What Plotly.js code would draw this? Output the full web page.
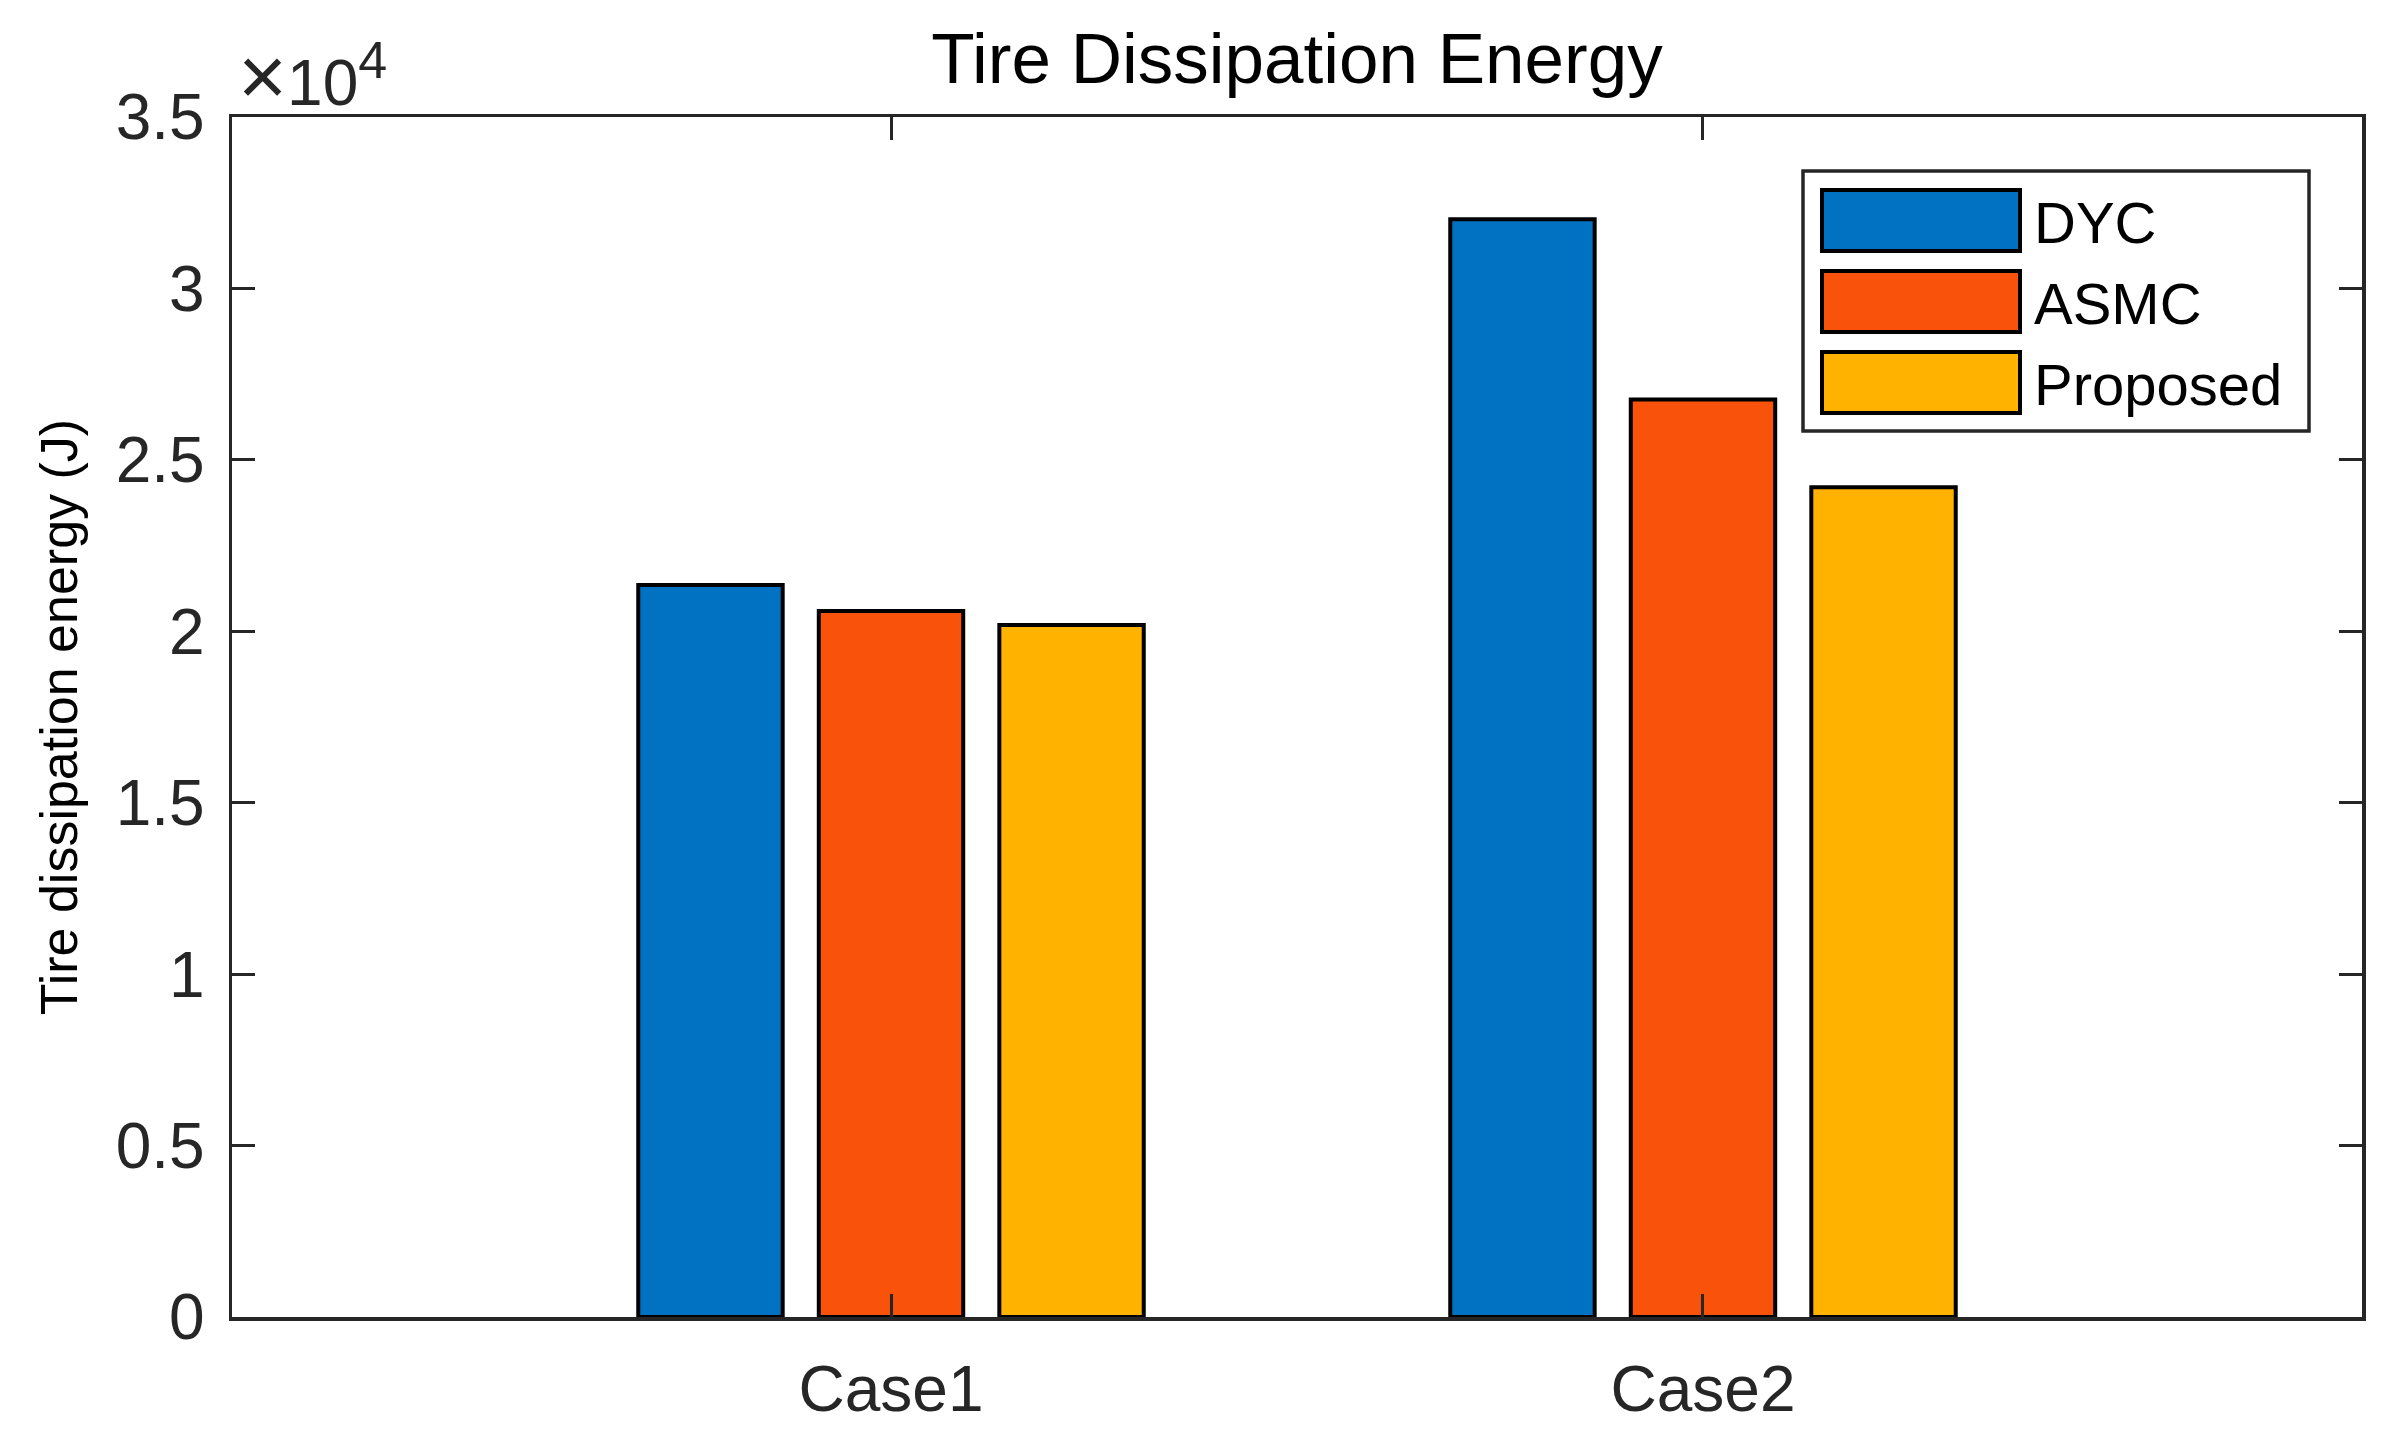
<!DOCTYPE html>
<html>
<head>
<meta charset="utf-8">
<script src="https://cdn.plot.ly/plotly-3.0.1.min.js"></script>
<style>
  html, body { margin: 0; padding: 0; background: #ffffff; }
  #chart { width: 2401px; height: 1435px; }
</style>
</head>
<body>
<div id="chart"></div>
<script>
// ---- data ----
const categories = ['Case1', 'Case2'];
const seriesNames = ['DYC', 'ASMC', 'Proposed'];
const dycValues = [21350, 32020];
const asmcValues = [20590, 26760];
const proposedValues = [20180, 24200];
const seriesColors = ['#0072C1', '#F9530B', '#FFB200'];
const yTickVals = [0, 5000, 10000, 15000, 20000, 25000, 30000, 35000];
const yTickText = ['0', '0.5', '1', '1.5', '2', '2.5', '3', '3.5'];

const seriesValues = [dycValues, asmcValues, proposedValues];

// ---- styling ----
const FONT = 'Liberation Sans, Arial, Helvetica, sans-serif';
const AX = '#262626';
const W = 2401, H = 1435;
const M = { l: 232, r: 39, t: 117, b: 118 };
const PW = W - M.l - M.r, PH = H - M.t - M.b;
const px2x = p => (p - M.l) / PW;
const px2y = p => (H - M.b - p) / PH;

const traces = seriesNames.map((name, i) => ({
  type: 'bar',
  name: name,
  x: categories,
  y: seriesValues[i],
  marker: { color: seriesColors[i], line: { color: '#000000', width: 4 } },
  showlegend: false,
  hoverinfo: 'x+y+name'
}));

// custom MATLAB-style legend (box, long swatches, labels)
const shapes = [];
const annotations = [];
const legBox = { x0: 1803, x1: 2309, y0: 171, y1: 431 };
shapes.push({
  type: 'rect', xref: 'paper', yref: 'paper', layer: 'above',
  x0: px2x(legBox.x0), x1: px2x(legBox.x1), y0: px2y(legBox.y1), y1: px2y(legBox.y0),
  fillcolor: '#ffffff', line: { color: AX, width: 3.5 }
});
const rowCenter0 = 220.5, rowPitch = 81, swH = 61;
seriesNames.forEach((name, i) => {
  const cy = rowCenter0 + i * rowPitch;
  shapes.push({
    type: 'rect', xref: 'paper', yref: 'paper', layer: 'above',
    x0: px2x(1822), x1: px2x(2020), y0: px2y(cy + swH / 2), y1: px2y(cy - swH / 2),
    fillcolor: seriesColors[i], line: { color: '#000000', width: 4 }
  });
  annotations.push({
    xref: 'paper', yref: 'paper', x: px2x(2032), y: px2y(cy + 2),
    xanchor: 'left', yanchor: 'middle', showarrow: false,
    text: name, font: { family: FONT, size: 58, color: '#000000' }
  });
});

// exponent label
annotations.push({
  xref: 'paper', yref: 'paper', x: 0, y: 1, xanchor: 'left', yanchor: 'bottom',
  xshift: 4, yshift: -8, showarrow: false,
  text: '<span style="font-size:84px">×</span>10<sup><span style="font-size:52px">4</span></sup>',
  font: { family: FONT, size: 64, color: AX }
});

const layout = {
  width: W, height: H,
  margin: { l: M.l, r: M.r, t: M.t, b: M.b, pad: 0 },
  paper_bgcolor: '#ffffff', plot_bgcolor: '#ffffff',
  font: { family: FONT, color: AX, size: 64 },
  title: {
    text: 'Tire Dissipation Energy',
    font: { family: FONT, size: 71, color: '#000000' },
    xref: 'paper', x: 0.5, xanchor: 'center',
    yref: 'container', y: 1 - 58 / H, yanchor: 'middle'
  },
  barmode: 'group',
  bargap: 0.333,
  bargroupgap: 0.2,
  showlegend: false,
  xaxis: {
    type: 'category',
    range: [-0.8116, 1.8116],
    showline: true, linecolor: AX, linewidth: 3.5, mirror: 'ticks',
    ticks: 'inside', ticklen: 23, tickwidth: 3, tickcolor: AX,
    showgrid: false, zeroline: false,
    tickfont: { family: FONT, size: 64, color: AX },
    ticklabelstandoff: 14
  },
  yaxis: {
    range: [0, 35000],
    tickmode: 'array', tickvals: yTickVals, ticktext: yTickText,
    showline: true, linecolor: AX, linewidth: 3.5, mirror: 'ticks',
    ticks: 'inside', ticklen: 23, tickwidth: 3, tickcolor: AX,
    showgrid: false, zeroline: false,
    tickfont: { family: FONT, size: 64, color: AX },
    ticklabelstandoff: 11,
    title: {
      text: 'Tire dissipation energy (J)',
      font: { family: FONT, size: 52, color: '#000000' },
      standoff: 22
    }
  },
  shapes: shapes,
  annotations: annotations
};

Plotly.newPlot('chart', traces, layout, { displayModeBar: false, staticPlot: true });
</script>
</body>
</html>
